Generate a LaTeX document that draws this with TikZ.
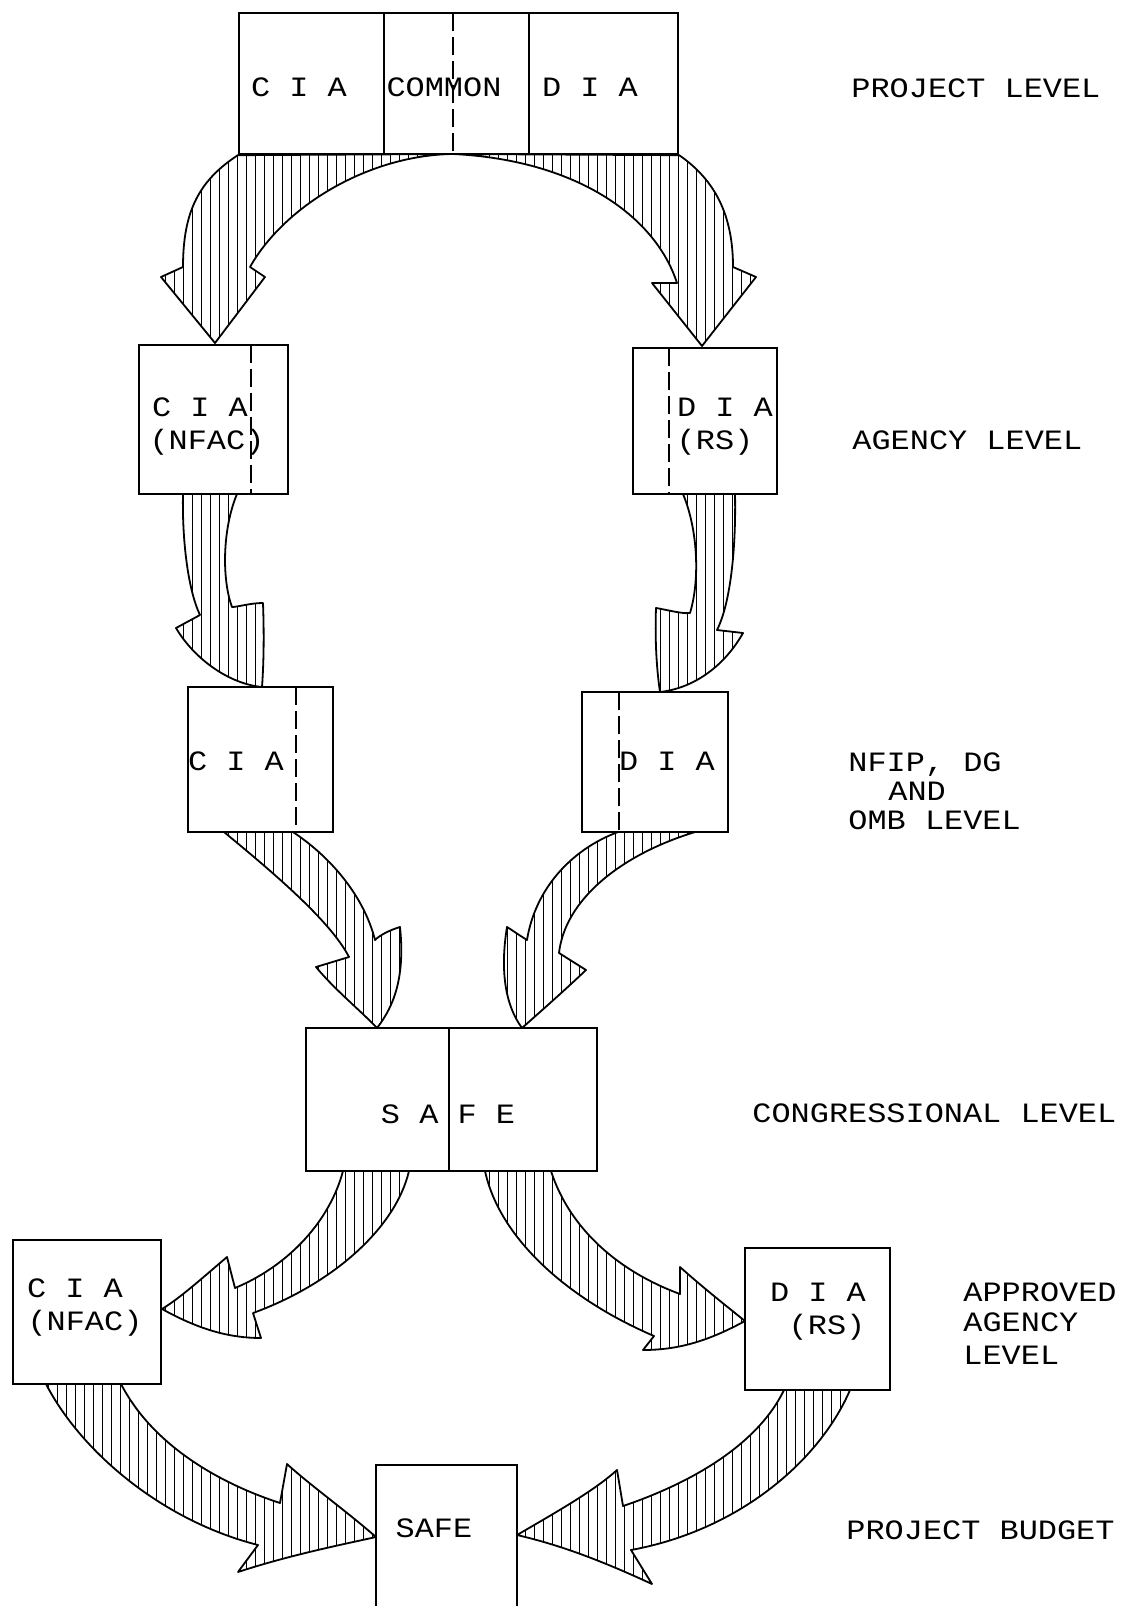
\documentclass[tikz,border=0pt]{standalone}
\usepackage{fontspec}
\setmonofont{Liberation Mono}[FakeStretch=1.14]
\usetikzlibrary{fit}
\newcommand\fatarrow[1]{%
  \begin{scope}
    \clip #1;
    \foreach \hx in {3,12,...,1122} {\draw[hatchline] (\hx,0) -- (\hx,1606);}
  \end{scope}
  \draw[outline] #1;
}
\begin{document}
\begin{tikzpicture}[x=0.5pt,y=-0.5pt,
  box/.style={draw, line width=1.2pt, inner sep=0pt, rectangle},
  divider/.style={line width=1.1pt},
  dashdiv/.style={line width=1.3pt, dash pattern=on 9pt off 3pt},
  outline/.style={line width=0.9pt, line join=round},
  hatchline/.style={line width=0.45pt},
  lbl/.style={font=\ttfamily\fontsize{14}{16}\selectfont, inner sep=0pt},
]
\clip (0,0) rectangle (1124,1606);
\fill[white] (0,0) rectangle (1124,1606);

% ---------- boxes ----------
\node[box, fit={(239,13) (678,154)}] (top) {};
\draw[divider] (384,13) -- (384,154);
\draw[divider] (529,13) -- (529,154);
\draw[dashdiv] (453,13) -- (453,154);

\node[box, fit={(139,345) (288,494)}] (AL) {};
\draw[dashdiv] (251,345) -- (251,494);
\node[box, fit={(633,348) (777,494)}] (AR) {};
\draw[dashdiv] (669,348) -- (669,494);

\node[box, fit={(188,687) (333,832)}] (NL) {};
\draw[dashdiv] (296,687) -- (296,832);
\node[box, fit={(582,692) (728,832)}] (NR) {};
\draw[dashdiv] (619,692) -- (619,832);

\node[box, fit={(306,1028) (597,1171)}] (SAFE) {};
\draw[divider] (449,1028) -- (449,1171);

\node[box, fit={(13,1240) (161,1384)}] (AAL) {};
\node[box, fit={(745,1248) (890,1390)}] (AAR) {};
\node[box, fit={(376,1465) (517,1630)}] (BSAFE) {};

% ---------- fat hatched arrows ----------
\fatarrow{(top.south west) .. controls (200,180) and (183,210) .. (183,267) -- (161,277) -- (215,343) -- (265,277) -- (250,267) .. controls (285,205) and (370,155) .. (453,154) -- cycle}
\fatarrow{(top.south east) .. controls (715,180) and (733,215) .. (733,267) -- (756,277) -- (702,346) -- (652,283) -- (677,283) .. controls (655,215) and (575,160) .. (453,154) -- cycle}

\fatarrow{(183,494) .. controls (182,540) and (188,590) .. (200,615) -- (176,628) .. controls (195,660) and (230,684) .. (262,687) .. controls (264,660) and (264,630) .. (263,603) .. controls (250,603) and (238,607) .. (232,607) .. controls (222,580) and (222,530) .. (237,494) -- cycle}
\fatarrow{(735,494) .. controls (736,540) and (732,600) .. (717,630) -- (743,633) .. controls (725,665) and (695,688) .. (660,692) .. controls (656,665) and (655,635) .. (656,608) .. controls (668,610) and (682,614) .. (690,613) .. controls (700,580) and (698,530) .. (683,494) -- cycle}

\fatarrow{(224,832) .. controls (270,870) and (330,920) .. (349,957) -- (316,967) .. controls (335,990) and (360,1010) .. (377,1028) .. controls (395,1005) and (405,975) .. (400,927) .. controls (390,930) and (380,935) .. (375,940) .. controls (365,900) and (335,860) .. (293,832) -- cycle}
\fatarrow{(695,832) .. controls (620,855) and (565,900) .. (559,953) -- (586,970) .. controls (565,990) and (540,1012) .. (522,1028) .. controls (505,1005) and (500,970) .. (507,927) .. controls (515,932) and (522,937) .. (527,940) .. controls (535,890) and (570,850) .. (618,832) -- cycle}

\fatarrow{(343,1171) .. controls (330,1220) and (290,1265) .. (235,1288) -- (227,1257) .. controls (200,1280) and (180,1298) .. (162,1309) .. controls (200,1330) and (230,1338) .. (261,1338) -- (253,1313) .. controls (330,1285) and (395,1230) .. (409,1171) -- cycle}
\fatarrow{(551,1171) .. controls (570,1230) and (620,1272) .. (680,1294) -- (680,1267) .. controls (700,1285) and (725,1305) .. (745,1321) .. controls (710,1340) and (680,1350) .. (643,1350) -- (654,1336) .. controls (570,1300) and (500,1240) .. (485,1171) -- cycle}

\fatarrow{(46,1384) .. controls (80,1450) and (160,1520) .. (258,1545) -- (238,1572) .. controls (290,1555) and (340,1545) .. (376,1537) .. controls (345,1510) and (310,1485) .. (287,1464) -- (280,1503) .. controls (210,1480) and (150,1440) .. (121,1384) -- cycle}
\fatarrow{(850,1390) .. controls (820,1460) and (740,1530) .. (631,1550) -- (652,1584) .. controls (600,1560) and (560,1545) .. (517,1535) .. controls (560,1510) and (595,1490) .. (617,1470) -- (623,1506) .. controls (700,1480) and (760,1440) .. (784,1390) -- cycle}

% ---------- texts ----------
\node[lbl, anchor=base] (t1) at (299,96) {C I A};
\node[lbl, anchor=base] (t2) at (444,96) {COMMON};
\node[lbl, anchor=base] (t3) at (590,96) {D I A};
\node[lbl, anchor=base west] (l1) at (851,97) {PROJECT LEVEL};

\node[lbl, anchor=base] (t4) at (200,416) {C I A};
\node[lbl, anchor=base] (t5) at (207,449) {(NFAC)};
\node[lbl, anchor=base] (t6) at (725,416) {D I A};
\node[lbl, anchor=base] (t7) at (715,449) {(RS)};
\node[lbl, anchor=base west] (l2) at (852,449) {AGENCY LEVEL};

\node[lbl, anchor=base] (t8) at (236,770) {C I A};
\node[lbl, anchor=base] (t9) at (667,770) {D I A};
\node[lbl, anchor=base west] (l3a) at (848,771) {NFIP, DG};
\node[lbl, anchor=base west] (l3b) at (888,800) {AND};
\node[lbl, anchor=base west] (l3c) at (848,829) {OMB LEVEL};

\node[lbl, anchor=base] (t10) at (448,1123) {S A F E};
\node[lbl, anchor=base west] (l4) at (752,1122) {CONGRESSIONAL LEVEL};

\node[lbl, anchor=base] (t11) at (75,1297) {C I A};
\node[lbl, anchor=base] (t12) at (85,1330) {(NFAC)};
\node[lbl, anchor=base] (t13) at (818,1301) {D I A};
\node[lbl, anchor=base] (t14) at (827,1334) {(RS)};
\node[lbl, anchor=base west] (l5a) at (963,1301) {APPROVED};
\node[lbl, anchor=base west] (l5b) at (963,1331) {AGENCY};
\node[lbl, anchor=base west] (l5c) at (963,1364) {LEVEL};

\node[lbl, anchor=base] (t15) at (434,1537) {SAFE};
\node[lbl, anchor=base west] (l6) at (846,1539) {PROJECT BUDGET};
\end{tikzpicture}
\end{document}
